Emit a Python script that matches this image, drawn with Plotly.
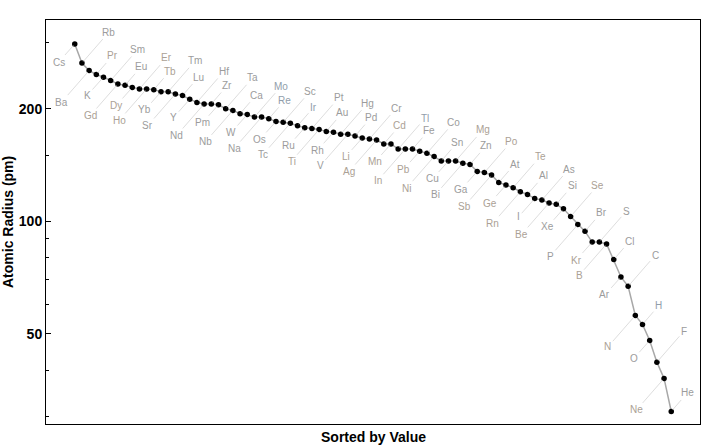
import math
import plotly.graph_objects as go

# Elements sorted by calculated atomic radius (pm), descending
elements = ["Cs", "Rb", "Ba", "Pr", "K", "Sm", "Gd", "Eu", "Dy", "Er", "Ho", "Tb",
            "Yb", "Tm", "Sr", "Lu", "Y", "Hf", "Nd", "Zr", "Pm", "Ta", "Nb", "Ca",
            "W", "Mo", "Na", "Re", "Os", "Sc", "Tc", "Ir", "Ru", "Pt", "Ti", "Au",
            "Rh", "Hg", "V", "Pd", "Li", "Cr", "Ag", "Cd", "Mn", "Tl", "In", "Fe",
            "Pb", "Co", "Ni", "Sn", "Cu", "Mg", "Bi", "Zn", "Ga", "Po", "Sb", "At",
            "Ge", "Te", "Rn", "Al", "I", "As", "Be", "Si", "Xe", "Se", "P", "Br",
            "Kr", "S", "B", "Cl", "Ar", "C", "N", "H", "O", "F", "Ne", "He"]
radii = [298, 265, 253, 247, 243, 238, 233, 231, 228, 226, 226, 225,
         222, 222, 219, 217, 212, 208, 206, 206, 205, 200, 198, 194,
         193, 190, 190, 188, 185, 184, 183, 180, 178, 177, 176, 174,
         173, 171, 171, 169, 167, 166, 165, 161, 161, 156, 156, 156,
         154, 152, 149, 145, 145, 145, 143, 142, 136, 135, 133, 127,
         125, 123, 120, 118, 115, 114, 112, 111, 108, 103, 98, 94,
         88, 88, 87, 79, 71, 67, 56, 53, 48, 42, 38, 31]
major_ticks = [50, 100, 200]
minor_ticks = [30, 40, 60, 70, 80, 90, 150, 300]

positions = list(range(1, len(radii) + 1))

FONT = "Liberation Sans, Arial, Helvetica, sans-serif"
tan_labels = {"Pr", "Gd", "Dy", "Er", "Ho", "Tb", "Ti", "Li", "Mn", "In", "Pb", "Ni",
              "Mg", "Sb", "Po", "Te", "Ge", "Rn", "Be", "Se", "Kr", "B", "N", "Ne", "Ag", "Cd"}
blue_labels = {"Mo", "Re", "Ir", "Tl", "H"}

fig = go.Figure()
fig.add_trace(go.Scatter(
    x=positions, y=radii, mode="lines+markers",
    line=dict(color="#a8a8a8", width=1.5),
    marker=dict(color="black", size=5.5),
    hoverinfo="text", text=elements, showlegend=False,
))

# callout placement cycle: below-short, above-long, below-long, above-short
offsets = {1: (-16, 18), 2: (27, -31), 3: (-27.5, 31.5), 0: (16, -18.5)}
annotations = []
for i, (el, r) in enumerate(zip(elements, radii), start=1):
    ax, ay = offsets[i % 4]
    col = "#aba195" if el in tan_labels else ("#919eab" if el in blue_labels else "#9c9c9c")
    annotations.append(dict(
        x=i, y=math.log10(r), xref="x", yref="y", text=el,
        showarrow=True, arrowhead=0, arrowwidth=0.7, arrowcolor="#cfcfcf",
        ax=ax, ay=ay, axref="pixel", ayref="pixel", standoff=2,
        font=dict(family=FONT, size=10, color=col),
    ))

annotations.append(dict(
    x=0.5, y=0, xref="paper", yref="paper", yanchor="middle", yshift=-13,
    text="<b>Sorted by Value</b>", showarrow=False,
    font=dict(family=FONT, size=14, color="black"),
))
annotations.append(dict(
    x=0, y=0.5, xref="paper", yref="paper", xanchor="center",
    xshift=-38, text="<b>Atomic Radius (pm)</b>", textangle=-90, showarrow=False,
    font=dict(family=FONT, size=14, color="black"),
))

fig.update_layout(
    width=720, height=447,
    margin=dict(l=46, r=20, t=20, b=23),
    paper_bgcolor="white", plot_bgcolor="white",
    annotations=annotations,
    xaxis=dict(range=[-3, 88], showticklabels=False, ticks="", showgrid=False,
               zeroline=False, showline=True, mirror=True, linecolor="black", linewidth=1),
    yaxis=dict(type="log", range=[math.log10(28.7), math.log10(345.5)],
               tickmode="array", tickvals=major_ticks, ticktext=[str(v) for v in major_ticks],
               ticks="inside", ticklen=5, tickcolor="black", tickwidth=1,
               tickfont=dict(family=FONT, size=14, color="black", weight="bold"),
               minor=dict(tickmode="array", tickvals=minor_ticks, ticks="inside",
                          ticklen=3, tickcolor="black", tickwidth=1, showgrid=False),
               showgrid=False, zeroline=False, showline=True, mirror=True,
               linecolor="black", linewidth=1),
)

fig.write_html("out.html")
